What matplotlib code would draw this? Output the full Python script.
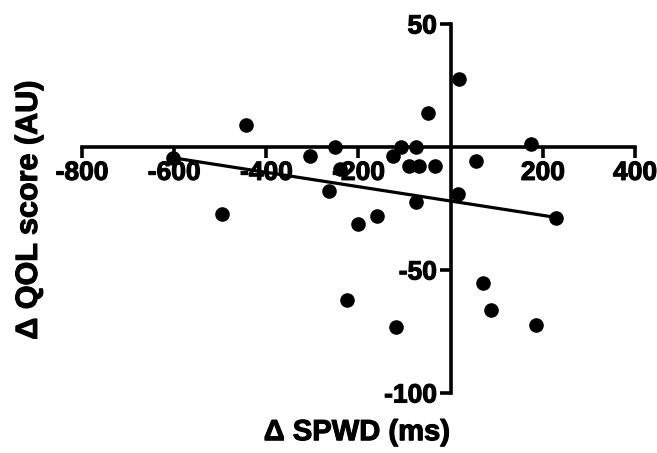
import numpy as np
import matplotlib.pyplot as plt
import matplotlib.patheffects as pe

# change in SPWD (ms) vs change in QOL score (AU)
d_spwd = [19, -50, -445, 174, -252, -306, -126, -107, -76, -90, -68, -33, 55, -602,
          -240, -264, 15, -76, -497, 228, -159, -202, 70, -225, 88, -118, 185]
d_qol = [27.8, 13.7, 9.0, 1.2, 0.0, -3.8, -3.8, 0.0, 0.0, -7.8, -7.8, -7.8, -5.8, -4.4,
         -8.9, -18.0, -19.1, -22.3, -27.1, -28.9, -28.2, -31.2, -55.2, -62.3, -66.3, -73.2, -72.5]

x_ticks = [-800, -600, -400, -200, 200, 400]
y_ticks = [50, -50, -100]

plt.rcParams['font.family'] = ['Liberation Sans', 'DejaVu Sans']
plt.rcParams['font.weight'] = 'bold'
plt.rcParams['axes.unicode_minus'] = False

heavy = [pe.withStroke(linewidth=0.8, foreground='black')]

fig = plt.figure(figsize=(6.57, 4.53), dpi=100)
ax = fig.add_axes([0.1248, 0.1325, 0.8417, 0.8145])

x = np.array(d_spwd)
y = np.array(d_qol)

# linear regression over the range of the data
slope, intercept = np.polyfit(x, y, 1)
xs = np.array([x.min(), x.max()])
ax.plot(xs, slope * xs + intercept, color='black', lw=2.3, zorder=2)

ax.scatter(x, y, s=90, color='black', zorder=3, clip_on=False)

ax.set_xlim(-800, 400)
ax.set_ylim(-100, 50)

# axes cross at the origin
ax.spines['left'].set_position(('data', 0))
ax.spines['bottom'].set_position(('data', 0))
ax.spines['top'].set_visible(False)
ax.spines['right'].set_visible(False)
for s in ['left', 'bottom']:
    ax.spines[s].set_linewidth(2.6)
    ax.spines[s].set_capstyle('projecting')

ax.set_xticks(x_ticks)
ax.set_yticks(y_ticks)
ax.tick_params(axis='both', direction='out', width=2.6, length=8,
               labelsize=19, pad=2)
for lab in ax.get_xticklabels() + ax.get_yticklabels():
    lab.set_fontweight('bold')
    lab.set_path_effects(heavy)

fig.text(0.543, 0.046, 'Δ SPWD (ms)', ha='center', va='center',
         fontsize=21, fontweight='bold', path_effects=heavy)
fig.text(0.044, 0.536, 'Δ QOL score (AU)', ha='center', va='center',
         rotation=90, fontsize=22, fontweight='bold', path_effects=heavy)

fig.savefig('out.png', dpi=100)
